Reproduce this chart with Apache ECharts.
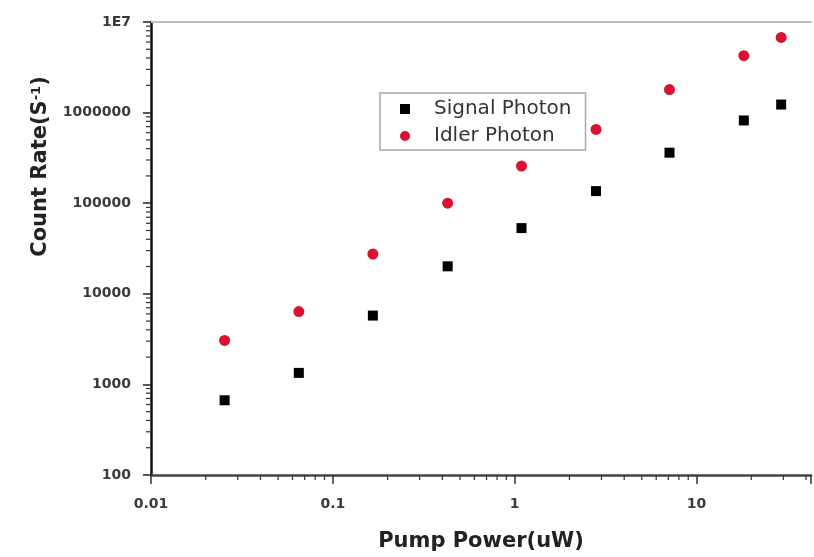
<!DOCTYPE html>
<html>
<head>
<meta charset="utf-8">
<script src="https://cdn.jsdelivr.net/npm/echarts@6/dist/echarts.min.js"></script>
<style>
  html, body { margin: 0; padding: 0; background: #fff; }
  #chart { width: 814px; height: 557px; }
</style>
</head>
<body>
<div id="chart"></div>
<script>
// Pump power (uW) for each measurement
const pumpPower = [0.0254, 0.065, 0.166, 0.428, 1.09, 2.8, 7.1, 18.2, 29.2];
// Count rates (1/s)
const signalCounts = [668, 1340, 5750, 20100, 53100, 136000, 361000, 819000, 1227000];
const idlerCounts = [3060, 6370, 27500, 100000, 257000, 652000, 1795000, 4250000, 6750000];
const seriesNames = ['Signal Photon', 'Idler Photon'];

// Axis ranges and the minor (2..9) tick positions of each decade
const xRange = [0.01, 42.6];
const yRange = [100, 1e7];
const xMinorTicks = [
  0.02, 0.03, 0.04, 0.05, 0.06, 0.07, 0.08, 0.09,
  0.2, 0.3, 0.4, 0.5, 0.6, 0.7, 0.8, 0.9,
  2, 3, 4, 5, 6, 7, 8, 9,
  20, 30, 40
];
const yMinorTicks = [
  200, 300, 400, 500, 600, 700, 800, 900,
  2000, 3000, 4000, 5000, 6000, 7000, 8000, 9000,
  20000, 30000, 40000, 50000, 60000, 70000, 80000, 90000,
  200000, 300000, 400000, 500000, 600000, 700000, 800000, 900000,
  2000000, 3000000, 4000000, 5000000, 6000000, 7000000, 8000000, 9000000
];

const FONT = 'DejaVu Sans';

function isDecade(v) {
  const l = Math.log10(v);
  return Math.abs(l - Math.round(l)) < 1e-6;
}

const chart = echarts.init(document.getElementById('chart'), null, { renderer: 'canvas' });

chart.setOption({
  animation: false,
  backgroundColor: '#ffffff',
  grid: { left: 151, right: 0, top: 22, bottom: 80 },
  legend: {
    orient: 'vertical',
    left: 380,
    top: 93,
    padding: [5, 14, 3, 20],
    itemGap: 5,
    itemWidth: 10,
    itemHeight: 10,
    borderColor: '#a8a8a8',
    borderWidth: 1.5,
    textStyle: { fontFamily: FONT, fontSize: 20, color: '#333', lineHeight: 22, padding: [0, 0, 0, 19] },
    data: [
      { name: seriesNames[0], icon: 'rect' },
      { name: seriesNames[1], icon: 'circle' }
    ]
  },
  xAxis: [
    {
      type: 'log',
      logBase: 10,
      min: xRange[0],
      max: xRange[1],
      name: 'Pump Power(uW)',
      nameLocation: 'middle',
      nameGap: 56,
      nameTextStyle: { fontFamily: FONT, fontSize: 21, fontWeight: 'bold', color: '#222' },
      axisLine: { show: true, onZero: false, lineStyle: { color: '#444', width: 2.5 } },
      axisTick: { show: true, inside: false, length: 9, lineStyle: { color: '#333', width: 1.5 } },
      axisLabel: {
        margin: 22,
        fontFamily: FONT, fontSize: 14, fontWeight: 'bold', color: '#3a3a3a',
        formatter: v => (isDecade(v) ? String(Number(v.toPrecision(6))) : '')
      },
      splitLine: { show: false }
    },
    {
      type: 'log',
      logBase: 10,
      min: xRange[0],
      max: xRange[1],
      position: 'top',
      axisLine: { show: true, onZero: false, lineStyle: { color: '#bdbdbd', width: 2 } },
      axisTick: { show: false },
      axisLabel: { show: false },
      splitLine: { show: false }
    }
  ],
  yAxis: {
    type: 'log',
    logBase: 10,
    min: yRange[0],
    max: yRange[1],
    name: 'Count Rate(S{sup|-1})',
    nameLocation: 'middle',
    nameRotate: 90,
    nameGap: 100,
    nameTextStyle: {
      fontFamily: FONT, fontSize: 21, fontWeight: 'bold', color: '#222',
      padding: [0, 0, 0, 164],
      rich: {
        sup: { fontFamily: FONT, fontSize: 13, fontWeight: 'bold', color: '#222', verticalAlign: 'top', padding: [0, 0, 8, 0] }
      }
    },
    axisLine: { show: true, onZero: false, lineStyle: { color: '#111', width: 2.5 } },
    axisTick: { show: true, inside: false, length: 8, lineStyle: { color: '#222', width: 1.5 } },
    axisLabel: {
      margin: 20,
      fontFamily: FONT, fontSize: 14, fontWeight: 'bold', color: '#3a3a3a',
      formatter: v => (v >= 1e7 ? '1E7' : String(Math.round(v)))
    },
    splitLine: { show: false }
  },
  series: [
    {
      name: seriesNames[0],
      type: 'scatter',
      symbol: 'rect',
      symbolSize: 10,
      itemStyle: { color: '#000000', opacity: 1 },
      data: pumpPower.map((x, i) => [x, signalCounts[i]])
    },
    {
      name: seriesNames[1],
      type: 'scatter',
      symbol: 'circle',
      symbolSize: 11,
      itemStyle: { color: '#dc1030', opacity: 1 },
      data: pumpPower.map((x, i) => [x, idlerCounts[i]])
    },
    {
      // minor ticks under the bottom axis
      name: 'xMinor',
      type: 'custom',
      silent: true,
      clip: false,
      data: xMinorTicks.map(v => [v]),
      renderItem: (params, api) => {
        const p = api.coord([api.value(0), yRange[0]]);
        return {
          type: 'line',
          shape: { x1: p[0], y1: p[1], x2: p[0], y2: p[1] + 5 },
          style: { stroke: '#333', lineWidth: 1.2 }
        };
      }
    },
    {
      // minor ticks left of the vertical axis
      name: 'yMinor',
      type: 'custom',
      silent: true,
      clip: false,
      data: yMinorTicks.map(v => [xRange[0], v]),
      renderItem: (params, api) => {
        const p = api.coord([xRange[0], api.value(1)]);
        return {
          type: 'line',
          shape: { x1: p[0] - 5, y1: p[1], x2: p[0], y2: p[1] },
          style: { stroke: '#333', lineWidth: 1.2 }
        };
      }
    }
  ]
});
</script>
</body>
</html>
